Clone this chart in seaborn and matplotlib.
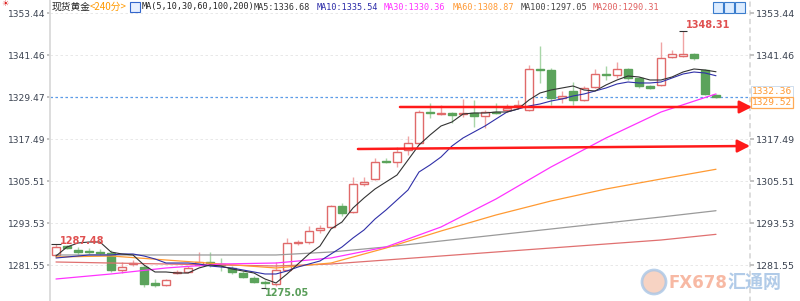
import numpy as np
import pandas as pd
import matplotlib
matplotlib.use("Agg")
import matplotlib.pyplot as plt
import seaborn as sns
from matplotlib.patches import Rectangle, Ellipse

# ---------------- data ----------------
opens = [1284.42, 1286.98, 1285.85, 1285.56, 1285.28, 1284.99, 1280.14, 1281.85, 1281.00, 1276.30,
         1276.00, 1279.40, 1279.57, 1281.56, 1282.42, 1281.85, 1280.71, 1279.28, 1277.86, 1276.72,
         1276.15, 1280.14, 1287.84, 1288.12, 1291.55, 1292.40, 1298.40, 1296.69, 1304.67, 1306.09,
         1311.23, 1310.95, 1314.37, 1316.37, 1325.20, 1324.63, 1324.92, 1324.63, 1324.92, 1324.07,
         1325.20, 1325.77, 1326.63, 1325.77, 1337.47, 1337.18, 1329.20, 1331.19, 1328.63, 1332.33,
         1336.04, 1335.76, 1337.47, 1334.90, 1332.62, 1332.91, 1340.89, 1341.18, 1341.75, 1337.18,
         1330.05]
closes = [1286.70, 1286.41, 1285.27, 1285.27, 1284.99, 1280.14, 1280.99, 1282.13, 1276.20, 1275.90,
          1277.20, 1279.70, 1280.71, 1282.42, 1282.13, 1281.56, 1279.57, 1278.15, 1276.72, 1276.43,
          1280.14, 1287.84, 1288.12, 1291.26, 1292.12, 1298.40, 1296.40, 1304.67, 1305.24, 1310.95,
          1310.95, 1313.80, 1316.37, 1325.20, 1324.92, 1324.92, 1324.35, 1324.92, 1324.07, 1325.20,
          1324.92, 1326.35, 1327.20, 1337.47, 1337.18, 1329.20, 1329.77, 1328.63, 1332.05, 1336.04,
          1335.76, 1337.47, 1334.90, 1332.62, 1332.05, 1340.61, 1341.75, 1341.75, 1340.61, 1330.34,
          1329.52]
highs = [1287.48, 1287.28, 1286.70, 1286.41, 1286.14, 1285.85, 1282.42, 1283.00, 1281.56, 1277.50,
         1277.60, 1280.20, 1281.28, 1285.27, 1285.27, 1283.57, 1281.28, 1279.85, 1278.43, 1277.29,
         1282.42, 1289.27, 1288.69, 1292.70, 1292.98, 1298.68, 1299.25, 1306.67, 1306.67, 1312.09,
         1312.09, 1315.23, 1318.37, 1325.77, 1327.77, 1327.20, 1325.20, 1328.91, 1328.63, 1325.77,
         1327.77, 1327.49, 1328.63, 1338.61, 1344.03, 1337.76, 1331.19, 1333.76, 1332.62, 1337.47,
         1338.33, 1339.46, 1337.76, 1335.19, 1332.90, 1345.17, 1342.89, 1348.31, 1342.03, 1337.47,
         1330.34]
lows = [1283.85, 1286.14, 1284.42, 1284.70, 1284.42, 1279.57, 1279.28, 1281.28, 1275.40, 1275.30,
        1275.70, 1279.00, 1279.28, 1281.28, 1280.99, 1279.85, 1279.00, 1277.86, 1276.43, 1275.05,
        1275.58, 1279.85, 1287.28, 1287.55, 1290.69, 1292.12, 1295.55, 1296.40, 1304.10, 1305.81,
        1310.66, 1309.52, 1312.94, 1316.08, 1323.50, 1324.35, 1322.07, 1323.78, 1321.00, 1320.64,
        1324.63, 1325.20, 1326.06, 1325.49, 1333.48, 1327.20, 1327.77, 1327.20, 1328.34, 1332.05,
        1334.33, 1334.90, 1334.33, 1332.05, 1331.77, 1332.62, 1340.61, 1340.89, 1340.04, 1330.05,
        1329.20]

ma5 = [1284.13, 1286.70, 1287.84, 1288.12, 1288.12, 1285.27, 1284.70, 1284.42, 1281.56, 1279.57,
       1279.57, 1279.28, 1279.28, 1280.71, 1281.56, 1281.28, 1280.42, 1279.85, 1279.28, 1277.57,
       1276.43, 1279.00, 1281.85, 1284.70, 1286.98, 1291.83, 1293.83, 1297.82, 1300.67, 1303.24,
       1305.24, 1307.23, 1311.51, 1315.79, 1318.64, 1321.21, 1322.35, 1324.63, 1324.92, 1324.92,
       1325.20, 1325.20, 1326.06, 1328.63, 1330.62, 1331.48, 1332.05, 1332.62, 1331.48, 1331.19,
       1332.91, 1334.33, 1335.47, 1335.19, 1334.33, 1334.33, 1335.19, 1336.61, 1337.47, 1337.18,
       1336.68]
ma10 = [1283.56, 1283.85, 1284.13, 1284.42, 1284.42, 1284.42, 1284.70, 1284.70, 1284.13, 1283.28,
        1282.13, 1282.13, 1282.13, 1281.85, 1281.28, 1280.99, 1280.71, 1280.14, 1279.57, 1279.00,
        1279.00, 1279.85, 1280.99, 1281.85, 1282.71, 1284.70, 1286.70, 1289.27, 1291.55, 1294.68,
        1297.25, 1300.10, 1302.96, 1308.09, 1310.09, 1312.37, 1315.51, 1317.79, 1319.50, 1321.21,
        1323.21, 1325.20, 1326.06, 1326.92, 1327.49, 1328.34, 1328.91, 1329.77, 1330.34, 1331.19,
        1332.05, 1333.19, 1333.76, 1333.48, 1333.48, 1333.76, 1334.90, 1336.04, 1336.61, 1336.33,
        1335.54]
ma_long_idx = [0, 5, 10, 15, 20, 25, 30, 35, 40, 45, 50, 55, 60]
ma30 = [1277.57, 1279.00, 1280.71, 1281.85, 1282.13, 1283.56, 1286.70, 1292.40, 1300.39, 1309.52,
        1317.79, 1325.20, 1330.36]
ma60 = [1283.85, 1284.13, 1282.99, 1281.85, 1280.71, 1282.13, 1286.41, 1291.26, 1295.83, 1299.82,
        1303.24, 1306.09, 1308.87]
ma100 = [1284.42, 1284.42, 1284.42, 1284.42, 1284.42, 1285.27, 1286.70, 1288.41, 1290.12, 1291.83,
         1293.54, 1295.25, 1297.05]
ma200 = [1282.42, 1282.13, 1281.85, 1281.56, 1281.28, 1281.85, 1282.99, 1284.13, 1285.27, 1286.41,
         1287.55, 1288.69, 1290.31]

yticks = [1353.44, 1341.46, 1329.47, 1317.49, 1305.51, 1293.53, 1281.55]
last_price = 1329.52
other_price = 1332.36
high_label, low_label, first_high_label = 1348.31, 1275.05, 1287.48

# ---------------- figure ----------------
sns.set_theme(style="white")
plt.rcParams['font.family'] = ['DejaVu Sans', 'Noto Sans CJK SC']

W, H = 800, 301
fig = plt.figure(figsize=(W / 100, H / 100), dpi=100)
fig.patch.set_facecolor("white")
ax = fig.add_axes([50 / W, 0, 700 / W, 1])
ax.set_facecolor("white")
YTOP, YBOT = 1357.148, 1271.294
ax.set_xlim(-6 / 11, 694 / 11)
ax.set_ylim(YBOT, YTOP)

def px(x, y):
    return x / W, 1 - y / H

def pv(y):
    return YTOP - (YTOP - YBOT) * y / H

df = pd.DataFrame({"idx": np.arange(len(opens)), "open": opens, "close": closes,
                   "high": highs, "low": lows})
up = df[df.close >= df.open]
dn = df[df.close < df.open]

# grid
for t in yticks:
    ax.axhline(t, color="#e4e4e4", lw=0.6, ls=(0, (3, 3)), zorder=0)

# wicks
ax.vlines(up.idx, up.low, up.high, color="#f0a4a4", lw=1.0, zorder=2)
ax.vlines(dn.idx, dn.low, dn.high, color="#a8d6a8", lw=1.0, zorder=2)
# bodies
ax.bar(up.idx, (up.close - up.open).abs(), bottom=np.minimum(up.open, up.close), width=0.72,
       facecolor="white", edgecolor="#e06a6a", linewidth=1.0, zorder=3)
ax.bar(dn.idx, (dn.close - dn.open).abs(), bottom=np.minimum(dn.open, dn.close), width=0.72,
       facecolor="#5ba35b", edgecolor="#5ba35b", linewidth=1.0, zorder=3)

# moving averages
short = pd.DataFrame({"idx": df.idx, "MA5": ma5, "MA10": ma10})
long_ = pd.DataFrame({"idx": ma_long_idx, "MA30": ma30, "MA60": ma60, "MA100": ma100, "MA200": ma200})
sns.lineplot(data=long_, x="idx", y="MA200", ax=ax, color="#e07070", lw=0.9, zorder=4)
sns.lineplot(data=long_, x="idx", y="MA100", ax=ax, color="#9a9a9a", lw=0.9, zorder=4)
sns.lineplot(data=long_, x="idx", y="MA60", ax=ax, color="#ff9a33", lw=0.9, zorder=4)
sns.lineplot(data=long_, x="idx", y="MA30", ax=ax, color="#ff33ff", lw=0.9, zorder=4)
sns.lineplot(data=short, x="idx", y="MA10", ax=ax, color="#3030a8", lw=0.8, zorder=5)
sns.lineplot(data=short, x="idx", y="MA5", ax=ax, color="#333333", lw=0.8, zorder=5)

# last price line
ax.axhline(last_price, color="#5b9be8", lw=0.9, ls=(0, (2, 2)), zorder=1)

# red arrows
ax.annotate("", xy=(63.27, 1326.63), xytext=(31.27, 1326.63),
            arrowprops=dict(arrowstyle="-|>,head_length=0.75,head_width=0.38", color="#ff1a1a",
                            lw=1.8, mutation_scale=10, shrinkA=0, shrinkB=0),
            annotation_clip=False, zorder=6)
ax.annotate("", xy=(63.09, 1315.51), xytext=(27.45, 1314.65),
            arrowprops=dict(arrowstyle="-|>,head_length=0.75,head_width=0.38", color="#ff1a1a",
                            lw=1.8, mutation_scale=10, shrinkA=0, shrinkB=0),
            annotation_clip=False, zorder=6)

# high / low annotations
ax.hlines(first_high_label, -0.45, 0.45, color="#333333", lw=0.8, zorder=6)
ax.text(0.4, first_high_label + 1.0, f"{first_high_label:.2f}", color="#e05050", fontsize=7,
        fontweight="bold", ha="left", va="center", zorder=7)
ax.hlines(high_label, 56.6, 57.4, color="#333333", lw=0.8, zorder=6)
ax.text(57.3, high_label + 1.7, f"{high_label:.2f}", color="#e05050", fontsize=7,
        fontweight="bold", ha="left", va="center", zorder=7)
ax.hlines(low_label, 18.6, 19.4, color="#333333", lw=0.8, zorder=6)
ax.text(19.0, low_label - 1.5, f"{low_label:.2f}", color="#5a9e5a", fontsize=7,
        fontweight="bold", ha="left", va="center", zorder=7)

# axes styling
for s in ["top", "bottom"]:
    ax.spines[s].set_visible(False)
ax.spines["left"].set_color("#d8d8d8")
ax.spines["right"].set_color("#d8d8d8")
ax.spines["right"].set_linestyle((0, (2, 3)))
ax.set_xticks([])
ax.set_xlabel("")
ax.set_ylabel("")
ax.set_yticks(yticks)
ax.set_yticklabels([f"{t:.2f}" for t in yticks])
ax.tick_params(axis="y", left=True, length=2, color="#bbbbbb", labelsize=6.6,
               labelcolor="#3a4250", pad=1)

ax2 = ax.twinx()
ax2.set_ylim(YBOT, YTOP)
rt = [t for t in yticks if t != 1329.47]
ax2.set_yticks(rt)
ax2.set_yticklabels([f"{t:.2f}" for t in rt])
ax2.tick_params(axis="y", right=True, length=3, color="#bbbbbb", labelsize=6.8,
                labelcolor="#3a4250", pad=1)
for s in ax2.spines.values():
    s.set_visible(False)
ax2.grid(False)

# price boxes on the right
ax2.text(63.25, pv(91.5), f"{other_price:.2f}", color="#ff9933", fontsize=6.8, ha="left",
         va="center", family="DejaVu Sans Mono",
         bbox=dict(boxstyle="square,pad=0.12", fc="white", ec="#c8d8ea", lw=0.6), clip_on=False)
ax2.text(63.25, pv(102.5), f"{last_price:.2f}", color="#ff9933", fontsize=6.8, ha="left",
         va="center", family="DejaVu Sans Mono",
         bbox=dict(boxstyle="square,pad=0.12", fc="white", ec="#ffaa55", lw=0.9), clip_on=False)

# header
cjk = ["Noto Sans CJK SC", "DejaVu Sans"]
mono = ["DejaVu Sans Mono"]
fig.text(*px(1, 4), "☀", color="#dd2222", fontsize=6, va="center", ha="left")
fig.text(*px(52, 7), "现货黄金", color="#222222", fontsize=7, va="center", family=cjk)
fig.text(*px(90, 7), "<240分>", color="#ff9900", fontsize=7, va="center", family=cjk)
fig.patches.append(Rectangle(px(130, 12), 10 / W, 10 / H, transform=fig.transFigure,
                             fc="#e8f0ff", ec="#3366cc", lw=0.8))
header = [(142, "MA(5,10,30,60,100,200)", "#222222"),
          (254, "MA5:1336.68", "#333333"),
          (317, "MA10:1335.54", "#2a2aa8"),
          (384, "MA30:1330.36", "#ff33ff"),
          (453, "MA60:1308.87", "#ff9933"),
          (521, "MA100:1297.05", "#444444"),
          (593, "MA200:1290.31", "#e06060")]
for x0, s, c in header:
    fig.text(*px(x0, 7), s, color=c, fontsize=6.1, va="center", family=mono)
for x0 in (713, 724, 735):
    fig.patches.append(Rectangle(px(x0, 13), 10 / W, 11 / H, transform=fig.transFigure,
                                 fc="#dcecff", ec="#3a7ccc", lw=0.8))

# watermark
fig.patches.append(Ellipse(px(654, 282), 24 / W, 24 / H, transform=fig.transFigure,
                           fc="#f6c9b5", ec="#a9c6e6", lw=2, alpha=0.8))
fig.text(*px(669, 283), "FX678", color="#f7b29a", fontsize=12, fontweight="bold",
         va="center", ha="left", alpha=0.9)
fig.text(*px(728, 283), "汇通网", color="#a9c6e6", fontsize=13, fontweight="bold",
         va="center", ha="left", family=cjk, alpha=0.9)

fig.savefig("out.png", dpi=100, facecolor="white")
